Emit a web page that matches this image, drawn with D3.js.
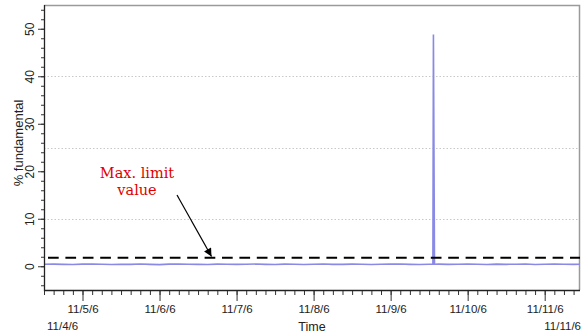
<!DOCTYPE html>
<html>
<head>
<meta charset="utf-8">
<script src="https://cdn.jsdelivr.net/npm/d3@7"></script>
<style>
  html, body { margin: 0; padding: 0; background: #fff; }
  svg { display: block; }
</style>
</head>
<body>
<svg id="chart" width="581" height="335"></svg>
<script>
// ---- data ----
const seriesStart = "2006-11-04T12:00";   // first sample, 3-hour steps
const baseValues = [
  0.42, 0.45, 0.40, 0.38, 0.44, 0.47, 0.41, 0.36,
  0.43, 0.40, 0.46, 0.39, 0.35, 0.44, 0.48, 0.42,
  0.40, 0.37, 0.45, 0.43, 0.39, 0.41, 0.46, 0.40,
  0.38, 0.44, 0.42, 0.37, 0.43, 0.47, 0.40, 0.39,
  0.45, 0.41, 0.36, 0.42, 0.44, 0.46, 0.40, 0.38,
  0.43, 0.45, 0.39, 0.41, 0.47, 0.42, 0.37, 0.44,
  0.40, 0.43, 0.46, 0.38, 0.41, 0.45, 0.42, 0.40, 0.43
];
const spikeTimes  = ["2006-11-09T13:10", "2006-11-09T13:20", "2006-11-09T13:30", "2006-11-09T13:40"];
const spikeValues = [0.45, 48.8, 24.6, 0.42];
const limitValue = 1.8;
const xDomain = ["2006-11-04T12:00", "2006-11-11T11:00"];
const majorTickDates  = ["2006-11-05", "2006-11-06", "2006-11-07", "2006-11-08", "2006-11-09", "2006-11-10", "2006-11-11"];
const majorTickLabels = ["11/5/6", "11/6/6", "11/7/6", "11/8/6", "11/9/6", "11/10/6", "11/11/6"];
const startLabel = "11/4/6";
const endLabel = "11/11/6";
const yDomain = [-5, 55];
const yMajorTicks = [0, 10, 20, 30, 40, 50];
const gridValues = [10, 25, 40];
const xTitle = "Time";
const yTitle = "% fundamental";
const annotationLines = ["Max. limit", "value"];

// ---- build ----
const parse = s => new Date(s);
const stepMs = 3 * 3600 * 1000;
const t0 = parse(seriesStart).getTime();
let pts = baseValues.map((v, i) => ({ t: new Date(t0 + i * stepMs), v }));
spikeTimes.forEach((s, i) => pts.push({ t: parse(s), v: spikeValues[i] }));
pts.sort((a, b) => a.t - b.t);

const L = 44, R = 580, T = 5, B = 290;
const svg = d3.select("#chart");
const x = d3.scaleTime().domain(xDomain.map(parse)).range([L, R]);
const y = d3.scaleLinear().domain(yDomain).range([B, T]);

// gridlines
svg.append("g").selectAll("line").data(gridValues).join("line")
  .attr("x1", L).attr("x2", R)
  .attr("y1", d => Math.round(y(d)) + 0.5).attr("y2", d => Math.round(y(d)) + 0.5)
  .attr("stroke", "#c8c8c8").attr("stroke-width", 1).attr("stroke-dasharray", "1.5,2");

// frame top/right
svg.append("path")
  .attr("d", `M${L},${T + 0.5}H${R - 0.5}V${B}`)
  .attr("fill", "none").attr("stroke", "#9a9a9a").attr("stroke-width", 1.5);

// clip
svg.append("clipPath").attr("id", "clip").append("rect")
  .attr("x", L).attr("y", T).attr("width", R - L).attr("height", B - T);

// data line
const line = d3.line().x(d => x(d.t)).y(d => y(d.v));
svg.append("path").datum(pts)
  .attr("clip-path", "url(#clip)")
  .attr("d", line)
  .attr("fill", "none").attr("stroke", "#8a8ae6").attr("stroke-width", 1.6)
  .attr("stroke-linejoin", "miter");

// limit line
svg.append("line")
  .attr("x1", L + 4).attr("x2", R)
  .attr("y1", y(limitValue)).attr("y2", y(limitValue))
  .attr("stroke", "#000").attr("stroke-width", 2).attr("stroke-dasharray", "10.7,6.7");

// x axis minor ticks
const gxMinor = svg.append("g").attr("transform", `translate(0,${B})`)
  .call(d3.axisBottom(x).ticks(d3.timeHour.every(3)).tickSize(5).tickFormat(""));
gxMinor.select(".domain").remove();
const gxMajor = svg.append("g").attr("transform", `translate(0,${B})`)
  .call(d3.axisBottom(x).tickValues(majorTickDates.map(d => new Date(d + "T00:00")))
    .tickSize(11).tickPadding(4)
    .tickFormat((d, i) => majorTickLabels[i]));
gxMajor.select(".domain").remove();
gxMajor.selectAll("text").attr("font-family", "Liberation Sans, Arial, sans-serif")
  .attr("font-size", "11.5px").attr("fill", "#222");

// y axis
const yMinor = d3.range(-4, 55, 2);
const gyMinor = svg.append("g").attr("transform", `translate(${L},0)`)
  .call(d3.axisLeft(y).tickValues(yMinor).tickSize(3).tickFormat(""));
gyMinor.select(".domain").remove();
const gyMajor = svg.append("g").attr("transform", `translate(${L},0)`)
  .call(d3.axisLeft(y).tickValues(yMajorTicks).tickSize(6).tickFormat(d3.format("d")));
gyMajor.select(".domain").remove();
gyMajor.selectAll("text")
  .attr("x", null).attr("dy", null)
  .attr("text-anchor", "middle")
  .attr("transform", "translate(-10.5,0) rotate(-90)")
  .attr("font-family", "Liberation Sans, Arial, sans-serif")
  .attr("font-size", "12px").attr("fill", "#222");

svg.selectAll(".tick line").attr("stroke", "#333");

// axis lines
svg.append("path")
  .attr("d", `M${L + 0.5},${T}V${B + 0.5}H${R}`)
  .attr("fill", "none").attr("stroke", "#222").attr("stroke-width", 1.3);

// start / end labels
const labelFont = "Liberation Sans, Arial, sans-serif";
svg.append("text").attr("x", L + 3).attr("y", 330).text(startLabel)
  .attr("font-family", labelFont).attr("font-size", "11.5px").attr("fill", "#222");
svg.append("text").attr("x", R + 1).attr("y", 330).attr("text-anchor", "end").text(endLabel)
  .attr("font-family", labelFont).attr("font-size", "11.5px").attr("fill", "#222");

// titles
svg.append("text").attr("x", 312).attr("y", 331).attr("text-anchor", "middle").text(xTitle)
  .attr("font-family", labelFont).attr("font-size", "12.5px").attr("fill", "#222");
svg.append("text").attr("transform", "translate(22.5,143) rotate(-90)")
  .attr("text-anchor", "middle").text(yTitle)
  .attr("font-family", labelFont).attr("font-size", "13px").attr("fill", "#222");

// annotation
svg.append("g").selectAll("text").data(annotationLines).join("text")
  .attr("x", 137).attr("y", (d, i) => 178 + i * 17)
  .attr("text-anchor", "middle")
  .attr("font-family", "DejaVu Serif, serif").attr("font-size", "14.5px")
  .attr("fill", "#e00000").text(d => d);

// arrow
const defs = svg.append("defs");
defs.append("marker").attr("id", "arrow").attr("viewBox", "0 0 10 10")
  .attr("refX", 10).attr("refY", 5).attr("markerWidth", 10).attr("markerHeight", 8)
  .attr("markerUnits", "userSpaceOnUse").attr("orient", "auto")
  .append("path").attr("d", "M0,0L10,5L0,10Z").attr("fill", "#000");
svg.append("line")
  .attr("x1", 177).attr("y1", 195).attr("x2", 211.5).attr("y2", 256.5)
  .attr("stroke", "#000").attr("stroke-width", 1.2).attr("marker-end", "url(#arrow)");
</script>
</body>
</html>
